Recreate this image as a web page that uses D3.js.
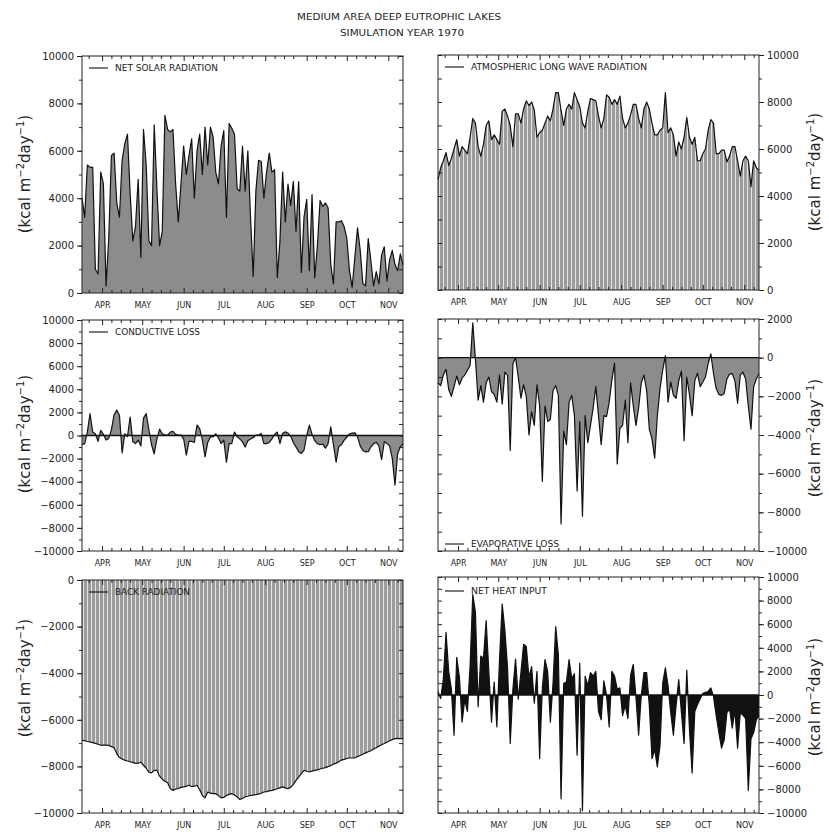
<!DOCTYPE html>
<html>
<head>
<meta charset="utf-8">
<script src="https://cdn.jsdelivr.net/npm/d3@7"></script>
<style>
  body { margin: 0; background: #fff; }
  text { font-family: "DejaVu Sans", sans-serif; fill: #222; }
</style>
</head>
<body>
<svg id="chart" width="829" height="832"></svg>
<script>
// Daily heat-budget components, sampled every 2 days from 17 March to 12 November 1970
const startDate = new Date(Date.UTC(1970, 2, 17));
const endDate = new Date(Date.UTC(1970, 10, 12));
const dayStep = 2;

const monthLabels = ["APR", "MAY", "JUN", "JUL", "AUG", "SEP", "OCT", "NOV"];

const netSolar = [
  4000, 3200, 5400, 5300, 5300, 1000, 800, 5100, 4600, 300,
  2300, 5800, 5900, 3800, 3200, 5600, 6300, 6700, 4200, 2200,
  2800, 4800, 1500, 6900, 5400, 2200, 2000, 7100, 4400, 2000,
  2600, 7500, 6900, 6800, 6900, 4600, 3000, 4600, 6200, 5000,
  5800, 6500, 4000, 6000, 6700, 5000, 7000, 5400, 7000, 6600,
  5100, 4600, 6200, 6850, 3200, 7150, 6950, 6700, 4400, 4300,
  6200, 4300, 6000, 3200, 700, 4300, 5600, 5550, 4000, 5100,
  5900, 5100, 5200, 650, 2200, 5100, 3000, 4600, 3700, 4700,
  2600, 4700, 870, 3200, 3950, 940, 4150, 650, 2000, 3900,
  3650, 3800, 3600, 1200, 380, 3000, 3000, 3050, 2800, 2300,
  940, 240, 1500, 2750, 1800, 400, 300, 2300, 1350, 300,
  900, 380, 1600, 1950, 500, 1400, 1800, 1200, 940, 1650,
  1200
];

const longWave = [
  4700, 5200, 5500, 5850, 5300, 5600, 6000, 6400, 5700, 6100,
  5950, 5800, 6500, 7300, 7100, 6100, 5700, 6200, 7000, 7200,
  6400, 6600, 6400, 6200, 7600, 7700, 7400, 7000, 6100, 7500,
  7500, 7100, 7700, 8050, 7850, 8000, 7650, 6500, 6700, 6800,
  7100, 7400, 7200, 7700, 8400, 8400, 7650, 7000, 7700, 7900,
  7700, 8400, 8100, 7800, 7100, 6900, 7600, 8150, 8100, 8050,
  7400, 6900, 7300, 8300, 8200, 7900, 8100, 7900, 8250, 7300,
  6900, 7100, 7450, 7900, 7900, 7300, 6900, 7700, 8000, 7700,
  7100, 6600, 6600, 6800, 6900, 8400, 6700, 6900, 6600, 5700,
  6300, 6000, 6500, 7350, 6500, 6200, 6500, 5500, 5500, 5800,
  6000, 6800, 7250, 7100, 5800, 5800, 5950, 5950, 5450, 5700,
  6100, 6100, 5500, 4850, 5500, 5700, 5500, 4400, 5500, 5200,
  5100
];

const conductive = [
  -800, -700, 300, 1900, 300, 150, -500, 450, 100, -400,
  -250, 500, 1800, 2200, 1750, -1500, 150, -100, 1600, -550,
  -700, -400, -900, 1500, 1900, 500, -800, -1600, -300, 550,
  150, 50, 30, 300, 350, 100, 30, 30, -300, -1700,
  -500, -500, -600, 900, 600, -400, -1850, -600, -120, -120,
  150, -200, -700, -400, -2300, -700, -700, 300, -120, -300,
  -550, -1000, -450, -300, -200, 30, 30, 170, -700, -700,
  -600, -300, 100, 300, -700, 170, 320, 200, -50, -600,
  -1000, -1400, -1550, -1270, 0, 900, 100, -450, -700, -800,
  -750, -1100, -700, 750, -800, -2300, -950, -800, -400, -150,
  150, 200, 230, -120, -900, -1300, -1420, -1400, -1000, -700,
  -600, -900, -2100, -550, -700, -900, -2000, -4300, -1560, -1000,
  -700
];

const evaporative = [
  -1300, -1450, -900, -600, -1650, -2000, -1500, -950, -1400, -1050,
  -900, -650, -400, 1800, -100, -2200, -1450, -2300, -1300, -1000,
  -1750, -1900, -2300, -900, -2400, -750, -900, -4800, -300, 0,
  -1000, -2100, -1400, -2000, -4000, -2800, -3500, -1400, -2500, -6400,
  -2500, -3300, -3200, -1700, -1450, -1950, -8600, -3800, -4500, -2300,
  -1950, -3000, -6900, -3300, -8200, -3000, -4400, -3500, -2600, -1500,
  -3000, -4500, -3000, -3050, -2300, -1150, -300, -5500, -3650, -3500,
  -2200, -4400, -1300, -2500, -3500, -2600, -1300, -900, -1700, -3700,
  -4200, -5200, -3000, -1600, -650, 100, -2300, -1260, -1940, -2100,
  -1200, -700, -4300, -1000, -1900, -3000, -1200, -800, -1500, -1260,
  -1000, -300, 200, -830, -1600, -1900, -1950, -1850, -1100, -850,
  -830, -1200, -2350, -900, -750, -1100, -2500, -3700, -1500, -1100,
  -830
];

const backRadiation = [
  -6880, -6900, -6930, -6950, -6980, -7010, -7050, -7090, -7090, -7090,
  -7100, -7150, -7200, -7450, -7620, -7680, -7740, -7770, -7800, -7830,
  -7870, -7860, -7820, -7950, -8080, -8250, -8280, -8170, -8170, -8420,
  -8550, -8640, -8700, -8950, -9030, -8970, -8950, -8900, -8880, -8850,
  -8810, -8870, -8850, -8810, -9000, -9250, -9350, -9100, -9150, -9170,
  -9170, -9250, -9350, -9330, -9250, -9200, -9170, -9230, -9310, -9420,
  -9380, -9300, -9280, -9240, -9230, -9210, -9190, -9150, -9100, -9080,
  -9050, -9030, -9000, -8960, -8920, -8880, -8920, -8960, -8900, -8780,
  -8600, -8460, -8300, -8170, -8210, -8240, -8200, -8170, -8150, -8110,
  -8080, -8050, -8010, -7970, -7900, -7860, -7800, -7730, -7700, -7660,
  -7640, -7640, -7630, -7580, -7530, -7480, -7420, -7370, -7330, -7250,
  -7200, -7130, -7070, -7020, -6960, -6900, -6850, -6810, -6800, -6810,
  -6810
];

const netHeat = [
  300, -300, 1350, 5300, 2000, 500, -3400, 3200, 1500, -2300,
  -400, -1400, 2500, 8500, 7000, -1000, 3300, 3100, 6300, 2000,
  -2300, 1100, -2700, 3000, 7700, 5500, 2300, -4100, 500, 3050,
  -350, 1900, 4300, 4100, 1500, 2400, -700, 2000, -5400, 600,
  3000, 2000, -2300, 1000, 5800, 3400, -8800, 1000, 1100, 3000,
  1400, 1800, -5100, 2700, -9800, 1600, 800, 1900, 1600, 2000,
  -1400, -2100, 1200, 0, -2700, 2000, 1600, 500, 600, -1750,
  -900, -2000, 1700, 2600, -200, -3400, 0, 1900, 1900, -900,
  -5400, -4600, -6100, -4300, 1000, 2300, 800, -1500, -3400, -900,
  1300, -1500, -4100, 2100, -2900, -6600, -1400, -800, -340, 140,
  230, 300, 600, -140, -1750, -3200, -4500, -3800, -1500, -1200,
  -2800, -1300, -4500, -1500, -1700, -2000, -8100, -3700, -3200, -2100,
  -1750
];

const svg = d3.select("#chart");

// Hatched fill used by the two radiation panels drawn as striped columns
const defs = svg.append("defs");
const hatch = defs.append("pattern")
  .attr("id", "stripes")
  .attr("patternUnits", "userSpaceOnUse")
  .attr("width", 4).attr("height", 8);
hatch.append("rect").attr("width", 4).attr("height", 8).attr("fill", "#e4e4e4");
hatch.append("rect").attr("width", 3).attr("height", 8).attr("fill", "#9c9c9c");

// Title
svg.append("text").attr("x", 399).attr("y", 20).attr("text-anchor", "middle")
  .attr("font-size", 9).attr("textLength", 204).attr("lengthAdjust", "spacingAndGlyphs")
  .text("MEDIUM AREA DEEP EUTROPHIC LAKES");
svg.append("text").attr("x", 402).attr("y", 36).attr("text-anchor", "middle")
  .attr("font-size", 9).attr("textLength", 124).attr("lengthAdjust", "spacingAndGlyphs")
  .text("SIMULATION YEAR 1970");

const fmt = v => v === 0 ? "0" : (v < 0 ? "\u2212" : "") + Math.abs(v);

const monthTicks = d3.utcMonth.range(new Date(Date.UTC(1970, 3, 1)), new Date(Date.UTC(1970, 11, 1)));
const minorTicks = d3.utcDay.range(startDate, endDate).filter(d => [8, 15, 22].includes(d.getUTCDate()));

const panels = [
  { values: netSolar, legend: "NET SOLAR RADIATION", legendW: 103, legendY: 68,
    left: 82, right: 403, top: 56, bottom: 293, yMin: 0, yMax: 10000,
    side: "left", fill: "#8c8c8c", zero: false, labelX: 30, labelY: 174 },
  { values: longWave, legend: "ATMOSPHERIC LONG WAVE RADIATION", legendW: 176, legendY: 67,
    left: 438, right: 759, top: 55, bottom: 290, yMin: 0, yMax: 10000,
    side: "right", fill: "url(#stripes)", zero: false, labelX: 820, labelY: 172 },
  { values: conductive, legend: "CONDUCTIVE LOSS", legendW: 85, legendY: 332,
    left: 82, right: 403, top: 320, bottom: 551, yMin: -10000, yMax: 10000,
    side: "left", fill: "#8c8c8c", zero: true, labelX: 30, labelY: 434 },
  { values: evaporative, legend: "EVAPORATIVE LOSS", legendW: 88, legendY: 544,
    left: 438, right: 759, top: 319, bottom: 551, yMin: -10000, yMax: 2000,
    side: "right", fill: "#8c8c8c", zero: true, labelX: 820, labelY: 438 },
  { values: backRadiation, legend: "BACK RADIATION", legendW: 75, legendY: 592,
    left: 82, right: 403, top: 580, bottom: 813, yMin: -10000, yMax: 0,
    side: "left", fill: "url(#stripes)", zero: false, labelX: 30, labelY: 678 },
  { values: netHeat, legend: "NET HEAT INPUT", legendW: 76, legendY: 591,
    left: 438, right: 759, top: 577, bottom: 813, yMin: -10000, yMax: 10000,
    side: "right", fill: "#111", zero: true, labelX: 820, labelY: 697 }
];

function drawPanel(p) {
  const x = d3.scaleUtc().domain([startDate, endDate]).range([p.left, p.right]);
  const y = d3.scaleLinear().domain([p.yMin, p.yMax]).range([p.bottom, p.top]);
  const g = svg.append("g");
  const pts = p.values.map((v, i) => ({ date: d3.utcDay.offset(startDate, i * dayStep), v }));

  const area = d3.area().x(d => x(d.date)).y0(y(0)).y1(d => y(d.v));
  g.append("path").datum(pts).attr("d", area).attr("fill", p.fill);

  if (p.zero) {
    g.append("line").attr("x1", p.left).attr("x2", p.right)
      .attr("y1", y(0)).attr("y2", y(0)).attr("stroke", "#111").attr("stroke-width", 1.3);
  }

  const line = d3.line().x(d => x(d.date)).y(d => y(d.v));
  g.append("path").datum(pts).attr("d", line)
    .attr("fill", "none").attr("stroke", "#111").attr("stroke-width", 1.2)
    .attr("stroke-linejoin", "round");

  g.append("rect").attr("x", p.left).attr("y", p.top)
    .attr("width", p.right - p.left).attr("height", p.bottom - p.top)
    .attr("fill", "none").attr("stroke", "#222").attr("stroke-width", 1);

  const strip = sel => sel.call(s => s.select(".domain").remove())
    .selectAll("line").attr("stroke", "#222");

  // time axis: month ticks labelled below, inward ticks on both edges
  g.append("g").attr("transform", `translate(0,${p.bottom})`)
    .call(d3.axisBottom(x).tickValues(monthTicks).tickSizeInner(-5).tickSizeOuter(0)
      .tickPadding(9).tickFormat((d, i) => monthLabels[i]))
    .call(strip)
    .call(s => s.selectAll("text").attr("font-size", 8).attr("fill", "#222"));
  g.append("g").attr("transform", `translate(0,${p.bottom})`)
    .call(d3.axisBottom(x).tickValues(minorTicks).tickSize(-3).tickFormat(""))
    .call(strip);
  g.append("g").attr("transform", `translate(0,${p.top})`)
    .call(d3.axisTop(x).tickValues(monthTicks).tickSize(-5).tickFormat(""))
    .call(strip);
  g.append("g").attr("transform", `translate(0,${p.top})`)
    .call(d3.axisTop(x).tickValues(minorTicks).tickSize(-3).tickFormat(""))
    .call(strip);

  // value axis: labelled on the outer side, minor ticks every 1000
  const majors = d3.range(p.yMin, p.yMax + 1, 2000);
  const minors = d3.range(p.yMin, p.yMax + 1, 1000);
  const labelled = p.side === "left" ? d3.axisLeft(y) : d3.axisRight(y);
  const plain = p.side === "left" ? d3.axisLeft(y) : d3.axisRight(y);
  const inner = p.side === "left" ? d3.axisRight(y) : d3.axisLeft(y);
  const ax = p.side === "left" ? p.left : p.right;
  const bx = p.side === "left" ? p.right : p.left;

  g.append("g").attr("transform", `translate(${ax},0)`)
    .call(labelled.tickValues(majors).tickSize(5).tickPadding(3).tickFormat(fmt))
    .call(strip)
    .call(s => s.selectAll("text").attr("font-size", 10).attr("fill", "#222"));
  g.append("g").attr("transform", `translate(${ax},0)`)
    .call(plain.tickValues(minors).tickSize(3).tickFormat(""))
    .call(strip);
  g.append("g").attr("transform", `translate(${bx},0)`)
    .call(inner.tickValues(minors).tickSize(-4).tickFormat(""))
    .call(strip);

  // legend key
  const lx = p.left + 7;
  g.append("line").attr("x1", lx).attr("x2", lx + 19)
    .attr("y1", p.legendY).attr("y2", p.legendY).attr("stroke", "#111").attr("stroke-width", 1.1);
  g.append("text").attr("x", lx + 26).attr("y", p.legendY + 3)
    .attr("font-size", 8).attr("textLength", p.legendW).attr("lengthAdjust", "spacingAndGlyphs")
    .text(p.legend);

  // unit label
  const t = svg.append("text")
    .attr("transform", `translate(${p.labelX},${p.labelY}) rotate(-90)`)
    .attr("text-anchor", "middle").attr("font-size", 15).attr("fill", "#333");
  t.append("tspan").text("(kcal m");
  t.append("tspan").attr("dy", -6).attr("font-size", 10).text("\u22122");
  t.append("tspan").attr("dy", 6).text("day");
  t.append("tspan").attr("dy", -6).attr("font-size", 10).text("\u22121");
  t.append("tspan").attr("dy", 6).text(")");
}

panels.forEach(drawPanel);
</script>
</body>
</html>
